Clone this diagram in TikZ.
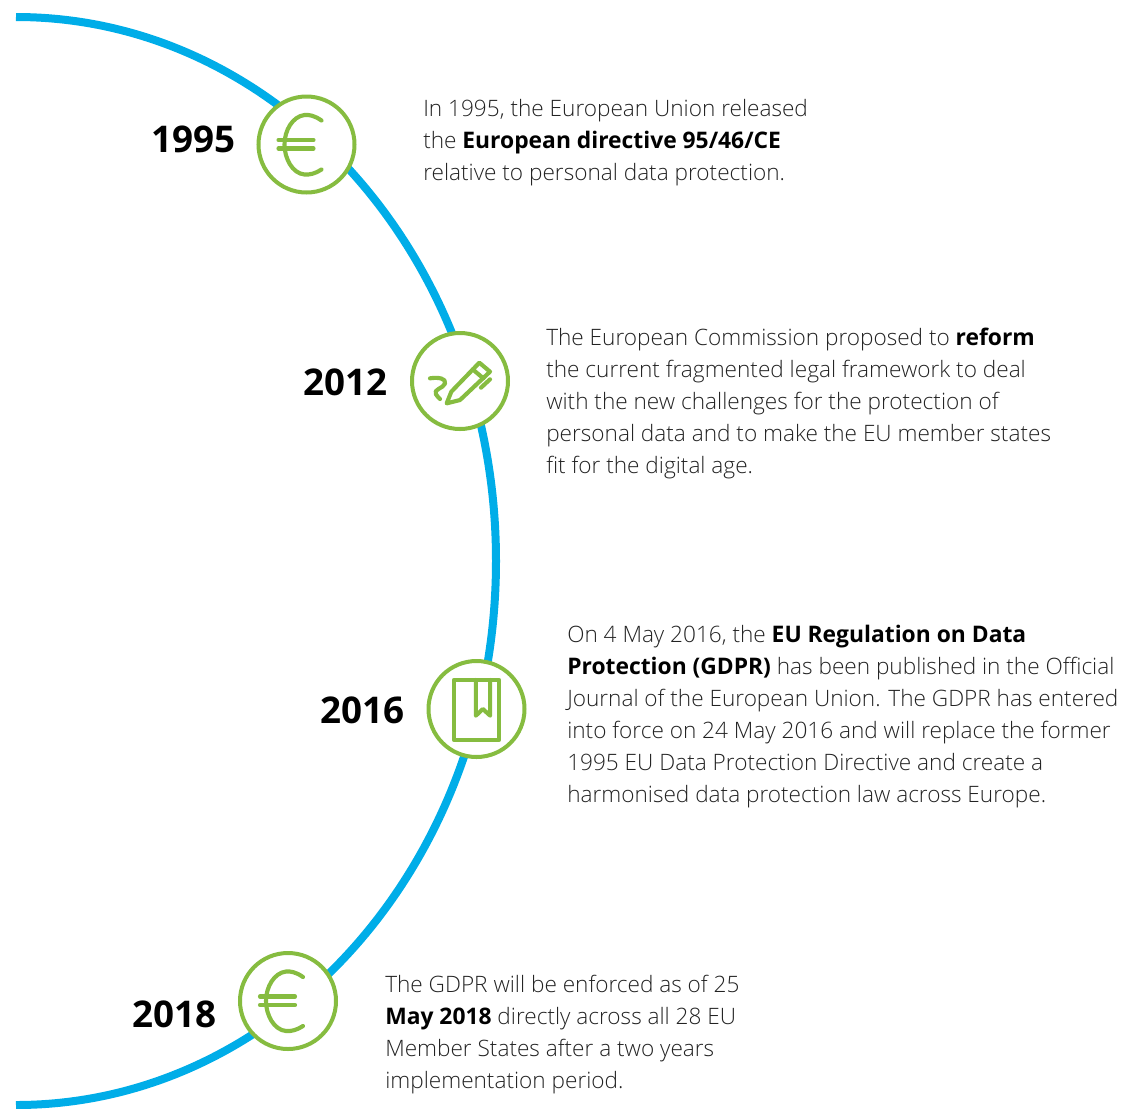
\documentclass[tikz,border=0pt]{standalone}
\usepackage{fontspec}
\setmainfont{Open Sans}
\newfontfamily\lightfont{Open Sans Light}
\newfontfamily\boldfont{Open Sans Bold}
\newfontfamily\boldtext[Scale=1.01]{Open Sans Bold}
\definecolor{arcblue}{HTML}{00ADE8}
\definecolor{icongreen}{HTML}{86BC40}
\definecolor{bodygrey}{HTML}{222222}
\newcommand{\bt}[1]{{\boldtext\color{black}#1}}
\tikzset{x=0.75pt,y=-0.75pt,
 ring/.style={circle,draw=icongreen,line width=3pt,fill=white,minimum size=72pt,inner sep=0pt},
 iconline/.style={draw=icongreen,line width=3.1pt,line cap=round,line join=round},
 yearlabel/.style={font=\boldfont\fontsize{27.6}{30}\selectfont,text=black,anchor=base west,inner sep=0pt},
 para/.style={font=\lightfont\fontsize{16.95}{24}\selectfont,text=bodygrey,align=left,anchor=north west,inner sep=0pt}}
\begin{document}
\begin{tikzpicture}
\useasboundingbox (0,0) rectangle (1122,1108);
\coordinate (arctop) at (16,17);
\draw[arcblue,line width=6pt] (arctop) arc[start angle=90,end angle=-90,x radius=480,y radius=-544];
\node[ring] (r95) at (306.5,144.5) {};
\node[ring] (r12) at (460,381) {};
\node[ring] (r16) at (476.5,709) {};
\node[ring] (r18) at (288,1001) {};
% euro icons
\foreach \c in {r95,r18}{
 \begin{scope}[shift={(\c)}]
  \draw[iconline] (15,-24) .. controls (8,-29) and (2,-30) .. (-2,-29.5) .. controls (-14,-28) and (-22,-14) .. (-22,0) .. controls (-22,14) and (-14,29) .. (-2,30) .. controls (3,30.5) and (9,29) .. (15,25);
  \draw[iconline] (-28,-4.5) -- (7,-4.5);
  \draw[iconline] (-28,4) -- (7,4);
 \end{scope}}
% pen icon
\begin{scope}[shift={(r12)},x=0.25pt,y=-0.25pt]
 \draw[iconline] (-40,67) -- (-26,32) -- (58,-55) -- (90,-28) -- (0,57) -- cycle;
 \draw[iconline] (38,-35) -- (70,-8);
 \draw[iconline] (63,20) -- (90,-5);
 \draw[iconline] (-90,-8) .. controls (-65,-12) and (-40,-8) .. (-45,8) .. controls (-50,22) and (-82,25) .. (-72,40) .. controls (-68,47) and (-62,52) .. (-60,54);
\end{scope}
% book icon
\begin{scope}[shift={(r16)},x=0.25pt,y=-0.25pt]
 \draw[iconline] (-68,-87) rectangle (68,92);
 \draw[iconline] (-2,-87) -- (-2,20) -- (19,0) -- (41,20) -- (41,-87);
\end{scope}
\node[yearlabel] (y95) at (151.5,152) {1995};
\node[yearlabel] (y12) at (303.5,395) {2012};
\node[yearlabel] (y16) at (320,723) {2016};
\node[yearlabel] (y18) at (132,1027) {2018};
\node[para] (t95) at (423,99) {In 1995, the European Union released\\the \bt{European directive 95/46/CE}\\relative to personal data protection.};
\node[para] (t12) at (546,328) {The European Commission proposed to \bt{reform}\\the current fragmented legal framework to deal\\with the new challenges for the protection of\\personal data and to make the EU member states\\fit for the digital age.};
\node[para] (t16) at (567,625) {On 4 May 2016, the \bt{EU Regulation on Data}\\\bt{Protection (GDPR)} has been published in the Official\\Journal of the European Union. The GDPR has entered\\into force on 24 May 2016 and will replace the former\\1995 EU Data Protection Directive and create a\\harmonised data protection law across Europe.};
\node[para] (t18) at (385,975) {The GDPR will be enforced as of 25\\\bt{May 2018} directly across all 28 EU\\Member States after a two years\\implementation period.};
\end{tikzpicture}
\end{document}
